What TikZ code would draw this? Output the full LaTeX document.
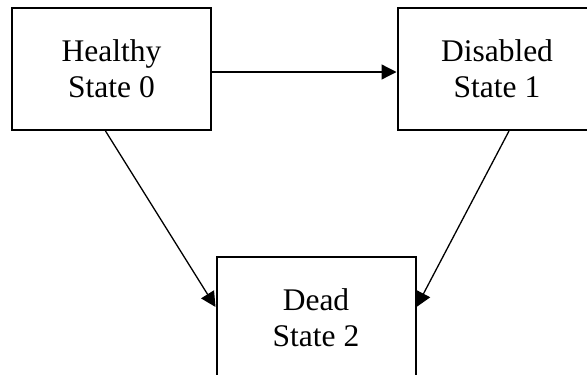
\documentclass[tikz,border=0pt]{standalone}
\usepackage{fontspec}
\setmainfont{Liberation Serif}
\usetikzlibrary{arrows.meta}
\tikzset{
  statebox/.style={draw, line width=2pt, minimum width=199pt, minimum height=122pt, inner sep=0pt, align=center, font=\fontsize{31.5}{36}\selectfont},
  trans/.style={line width=1.3pt, -{Triangle[length=15pt,width=15pt]}}
}
\begin{document}
\begin{tikzpicture}[x=1pt,y=-1pt]
\useasboundingbox (0,0) rectangle (587,375);
\clip (0,0) rectangle (587,375);
\node[statebox] (b0) at (111.5,69) {Healthy\\State 0};
\node[statebox] (b1) at (497,69) {Disabled\\State 1};
\node[statebox] (b2) at (316,318) {Dead\\State 2};
\draw[trans] ([yshift=-3pt]b0.east) -- ([yshift=-3pt]b1.west);
\draw[trans] ([xshift=-6pt]b0.south) -- ([yshift=11pt]b2.west);
\draw[trans] ([xshift=12pt]b1.south) -- ([yshift=11pt]b2.east);
\end{tikzpicture}
\end{document}
